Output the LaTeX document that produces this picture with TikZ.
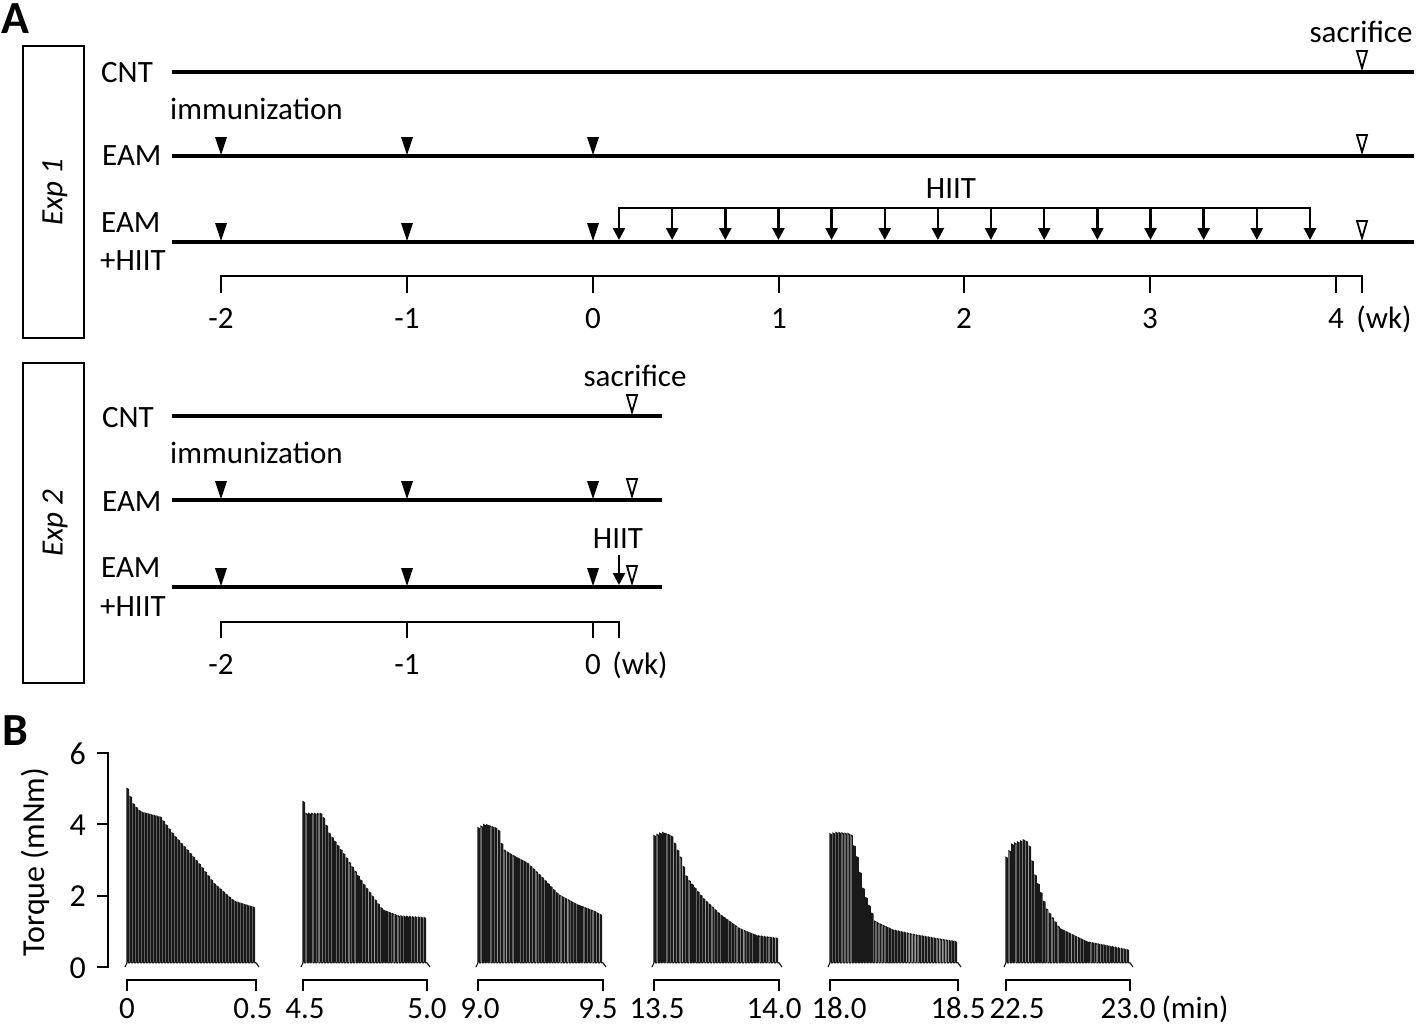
\documentclass[tikz,border=0pt]{standalone}
\usepackage{fontspec}
\setmainfont{Carlito}
\usetikzlibrary{arrows.meta}
\tikzset{
  lbl/.style={font=\fontsize{31}{36}\selectfont, inner sep=0pt},
  blbl/.style={font=\fontsize{31}{36}\selectfont, inner sep=0pt},
  ylbl/.style={font=\fontsize{32}{36}\selectfont, inner sep=0pt},
  panel/.style={font=\fontsize{46}{50}\selectfont\bfseries, inner sep=0pt},
  tl/.style={line width=4pt},
  brk/.style={line width=2pt},
  hiitarr/.style={line width=2.5pt, -{Triangle[length=12pt,width=12pt]}},
  trace/.style={line width=1.15pt, draw=black!90, line join=miter},
  expbox/.style={draw, line width=1.6pt},
  immtri/.pic={\fill (-6,-18) -- (6,-18) -- (0,0) -- cycle;},
  sactri/.pic={\draw[line width=1.8pt, fill=white, line join=miter] (-5,-17) -- (5,-17) -- (0,0) -- cycle;},
}
\newcommand\torquetrace[3]{%
  \pgfmathsetmacro\tdx{(#2-#1)/43}%
  \draw[trace] ({#1-2},967) -- (#1,962.7);
  \draw[trace] (#2,962.7) -- ({#2+3},967);
  \foreach \ta/\va/\tb/\vb in {#3}{%
    \pgfmathtruncatemacro\ka{ceil(\ta*43-0.001)}%
    \pgfmathtruncatemacro\kb{ceil(\tb*43-0.001)-1}%
    \ifnum\kb<\ka\relax\else
      \foreach \k in {\ka,...,\kb}{%
        \pgfmathsetmacro\xk{#1+\k*\tdx}%
        \pgfmathsetmacro\yk{967-35.7*(\va+(\vb-\va)*(\k/43-\ta)/(\tb-\ta))}%
        \draw[trace] (\xk,962.7) -- (\xk,\yk) -- ({\xk+0.5*\tdx},{\yk+0.8}) -- ({\xk+0.5*\tdx},962.7) -- ({\xk+\tdx},962.7);
      }%
    \fi
  }%
}
\begin{document}
\begin{tikzpicture}[x=1pt,y=-1pt]
\useasboundingbox[fill=white] (0,0) rectangle (1416,1029);

% ---------------- Panel A ----------------
\node[panel, anchor=base west] (A) at (1,33) {A};

% Exp 1
\draw[expbox] (23,46) rectangle (84,338);
\node[lbl, rotate=90] (exp1) at (55,192) {\itshape Exp 1};

\node[lbl, anchor=base west] (cnt1) at (101,82.7) {CNT};
\node[lbl, anchor=base west] (imm1) at (170,119.3) {immunization};
\node[lbl, anchor=base west] (eam1) at (102,165) {EAM};
\node[lbl, anchor=base west] (eamh1) at (101,232.3) {EAM};
\node[lbl, anchor=base west] (hiitl1) at (100,270.7) {+HIIT};
\node[lbl, anchor=base] (sac1) at (1361,42.3) {sacrifice};
\node[lbl, anchor=base] (hiit1) at (951,198) {HIIT};

\draw[tl] (172,72) -- (1414,72);
\draw[tl] (172,156) -- (1414,156);
\draw[tl] (172,242) -- (1414,242);

\foreach \x in {221,407,593}{
  \pic at (\x,155) {immtri};
  \pic at (\x,241) {immtri};
}
\pic at (1362,68) {sactri};
\pic at (1362,152) {sactri};
\pic at (1362,238) {sactri};

\draw[brk] (619,208) -- (1311,208);
\foreach \i in {0,...,13}{
  \pgfmathsetmacro\xa{619+53.15*\i}
  \draw[hiitarr] (\xa,207) -- (\xa,240);
}

\draw[brk] (221,293) -- (221,276) -- (1362,276) -- (1362,293);
\foreach \x in {407,593,779,964,1150,1336} \draw[brk] (\x,276) -- (\x,293);
\foreach \x/\t in {221/-2,407/-1,593/0,779/1,964/2,1150/3,1336/4}
  \node[lbl, anchor=base] at (\x,328) {\t};
\node[lbl, anchor=base] (wk1) at (1384,328) {(wk)};

% Exp 2
\draw[expbox] (23,363) rectangle (84,683);
\node[lbl, rotate=90] (exp2) at (55,523) {\itshape Exp 2};

\node[lbl, anchor=base west] (cnt2) at (102,427) {CNT};
\node[lbl, anchor=base west] (imm2) at (170,463) {immunization};
\node[lbl, anchor=base west] (eam2) at (102,511) {EAM};
\node[lbl, anchor=base west] (eamh2) at (101,577.7) {EAM};
\node[lbl, anchor=base west] (hiitl2) at (100,616.7) {+HIIT};
\node[lbl, anchor=base] (sac2) at (635,386.7) {sacrifice};
\node[lbl, anchor=base] (hiit2) at (618,548) {HIIT};

\draw[tl] (172,416) -- (662,416);
\draw[tl] (172,500) -- (662,500);
\draw[tl] (172,587) -- (662,587);

\foreach \x in {221,407,593}{
  \pic at (\x,499) {immtri};
  \pic at (\x,586) {immtri};
}
\pic at (632,412) {sactri};
\pic at (632,496) {sactri};
\pic at (632,583) {sactri};
\draw[hiitarr] (619,555) -- (619,585);

\draw[brk] (221,638) -- (221,622) -- (619,622) -- (619,638);
\foreach \x in {407,593} \draw[brk] (\x,622) -- (\x,638);
\foreach \x/\t in {221/-2,407/-1,593/0}
  \node[lbl, anchor=base] at (\x,674) {\t};
\node[lbl, anchor=base] (wk2) at (640,674) {(wk)};

% ---------------- Panel B ----------------
\node[panel, anchor=base west] (B) at (2,745) {B};
\node[ylbl, rotate=90] (torq) at (35,862) {Torque (mNm)};

\draw[brk] (97,753) -- (108,753) -- (108,967) -- (97,967);
\foreach \y in {824.3,895.7} \draw[brk] (97,\y) -- (108,\y);
\foreach \y/\t in {753/6,824.3/4,895.7/2,967/0}
  \node[ylbl, anchor=base east] at (86,{\y+11}) {\t};

\torquetrace{127}{256}{0/5.0/0.02/4.8, 0.02/4.8/0.049/4.55, 0.049/4.55/0.101/4.35, 0.101/4.35/0.256/4.2, 0.256/4.2/0.36/3.7, 0.36/3.7/0.46/3.3, 0.46/3.3/0.567/2.85, 0.567/2.85/0.67/2.35, 0.67/2.35/0.826/1.85, 0.826/1.85/1.0/1.65}
\torquetrace{303}{427}{0/4.63/0.02/4.3, 0.02/4.3/0.15/4.3, 0.15/4.3/0.21/3.74, 0.21/3.74/0.34/3.1, 0.34/3.1/0.48/2.35, 0.48/2.35/0.64/1.6, 0.64/1.6/0.77/1.43, 0.77/1.43/1.0/1.38}
\torquetrace{478}{603}{0/3.9/0.054/4.0, 0.054/4.0/0.16/3.87, 0.16/3.87/0.196/3.3, 0.196/3.3/0.29/3.1, 0.29/3.1/0.39/2.92, 0.39/2.92/0.5/2.55, 0.5/2.55/0.64/2.03, 0.64/2.03/0.79/1.75, 0.79/1.75/0.93/1.56, 0.93/1.56/1.0/1.42}
\torquetrace{654}{779}{0/3.68/0.065/3.77, 0.065/3.77/0.137/3.68, 0.137/3.68/0.21/3.07, 0.21/3.07/0.26/2.5, 0.26/2.5/0.39/1.93, 0.39/1.93/0.53/1.46, 0.53/1.46/0.68/1.08, 0.68/1.08/0.82/0.88, 0.82/0.88/1.0/0.8}
\torquetrace{830}{958}{0/3.73/0.05/3.77, 0.05/3.77/0.16/3.73, 0.16/3.73/0.21/3.07, 0.21/3.07/0.26/2.12, 0.26/2.12/0.35/1.27, 0.35/1.27/0.49/1.04, 0.49/1.04/0.67/0.9, 0.67/0.9/1.0/0.7}
\torquetrace{1006}{1130}{0/3.07/0.047/3.44, 0.047/3.44/0.138/3.56, 0.138/3.56/0.18/3.49, 0.18/3.49/0.23/2.6, 0.23/2.6/0.32/1.65, 0.32/1.65/0.43/1.08, 0.43/1.08/0.65/0.71, 0.65/0.71/1.0/0.47}

\foreach \xa/\xb in {127/256, 303/427, 478/603, 654/779, 830/958, 1006/1130}
  \draw[brk] (\xa,991) -- (\xa,980) -- (\xb,980) -- (\xb,991);
\foreach \x/\t in {127/0, 253/0.5, 305/4.5, 427/5.0, 480/9.0, 598/9.5, 657/13.5, 774/14.0, 839/18.0, 958/18.5, 1017/22.5, 1128/23.0}
  \node[blbl, anchor=base] at (\x,1018) {\t};
\node[blbl, anchor=base] (min) at (1195,1018) {(min)};
\end{tikzpicture}
\end{document}
